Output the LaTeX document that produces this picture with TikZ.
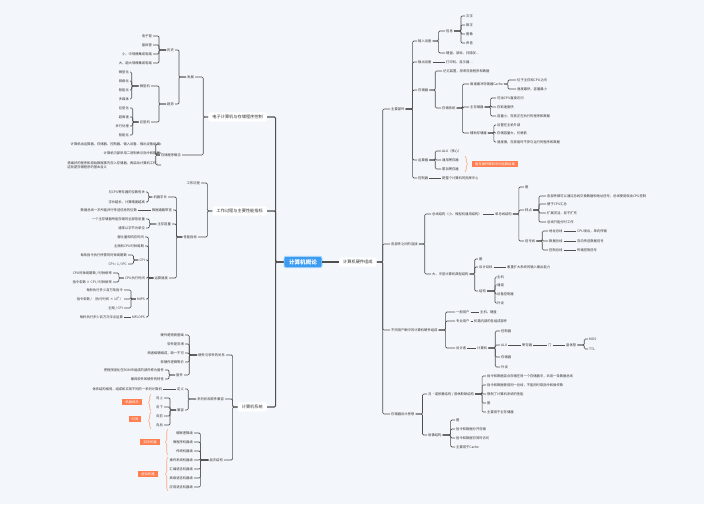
\documentclass[tikz,border=0pt]{standalone}
\usepackage{fontspec}
\setmainfont{Noto Sans CJK SC}
\usetikzlibrary{decorations.pathreplacing}
\definecolor{bgc}{HTML}{F3F6FA}
\definecolor{lnc}{HTML}{4F4F4F}
\definecolor{txc}{HTML}{333333}
\definecolor{rootc}{HTML}{3C9CF2}
\definecolor{rootb}{HTML}{A8D6FF}
\definecolor{tagc}{HTML}{FF7F50}
\definecolor{brc}{HTML}{FFA77F}
\newcommand\fs{\fontsize{3.3}{4.4}\selectfont}
\newcommand\rlink[3]{\foreach \ch in {#3}{\draw[ln] (#1.east) -- ++(#2,0) |- (\ch.west);}}
\newcommand\llink[3]{\foreach \ch in {#3}{\draw[ln] (#1.west) -- ++(-#2,0) |- (\ch.east);}}
\tikzset{
  txt/.style={font=\fs, text=txc, inner sep=1pt},
  rt/.style={txt, anchor=west},
  lt/.style={txt, anchor=east},
  topic/.style={fill=white, rounded corners=1.5pt, font=\fontsize{4.2}{5}\selectfont, text=txc, inner xsep=4pt, inner ysep=2.6pt},
  rootn/.style={fill=rootc, draw=rootb, line width=0.9pt, rounded corners=2pt, text=white, font=\bfseries\fontsize{5.6}{6.5}\selectfont, inner xsep=5pt, inner ysep=3pt},
  ln/.style={draw=lnc, line width=0.65pt, rounded corners=1.2pt},
  ln0/.style={ln, line width=1.1pt},
  tag/.style={fill=tagc, text=white, font=\fs, inner xsep=3pt, inner ysep=1.8pt},
  sumbr/.style={draw=brc, line width=0.6pt, decorate, decoration={brace, amplitude=2.5pt}},
}
\begin{document}
\begin{tikzpicture}[x=1pt,y=-1pt]
\fill[bgc] (0,0) rectangle (704,504);
\useasboundingbox (0,0) rectangle (704,504);

\node[rootn] (root) at (303,262) {计算机概论};
\node[topic,anchor=west] (hw) at (339,262) {计算机硬件组成};
\node[topic,anchor=east] (ep) at (267,117) {电子计算机与存储程序控制};
\node[topic,anchor=east] (wp) at (267,211) {工作过程与主要性能指标};
\node[topic,anchor=east] (cs) at (267,407) {计算机系统};
\draw[ln0] (root.east) -- (hw.west);
\foreach \t in {ep,wp,cs}{\draw[ln0] (root.west) -- ++(-8,0) |- (\t.east);}

% 电子计算机与存储程序控制
\node[lt] (fz) at (195,77) {发展};
\node[lt] (lsh) at (175,50) {历史};
\node[lt] (qs) at (175,104) {趋势};
\node[lt] (h1) at (153,36) {电子管};
\node[lt] (h2) at (153,45) {晶体管};
\node[lt] (h3) at (153,54) {小、中规模集成电路};
\node[lt] (h4) at (153,63) {大、超大规模集成电路};
\node[lt] (wx) at (151,86) {微型机};
\node[lt] (jx) at (151,122) {巨型机};
\node[lt] (w1) at (130,72) {微型化};
\node[lt] (w2) at (130,81) {网络化};
\node[lt] (w3) at (130,90) {智能化};
\node[lt] (w4) at (130,99) {多媒体};
\node[lt] (j1) at (130,108) {巨型化};
\node[lt] (j2) at (130,117) {超高速};
\node[lt] (j3) at (130,126) {并行处理};
\node[lt] (j4) at (130,135) {智能化};
\node[lt] (cx) at (182,155) {存储程序概念};
\node[lt] (c1) at (161,144) {计算机由运算器、存储器、控制器、输入设备、输出设备组成};
\node[lt] (c2) at (161,153) {计算机内部采用二进制表示指令和数据};
\node[lt,align=left] (c3) at (161,165) {将编好的程序和原始数据事先存入存储器，再启动计算机工作，\\这就是存储程序的基本含义};
\llink{ep}{5}{fz,cx}
\llink{fz}{7}{lsh,qs}
\llink{lsh}{7}{h1,h2,h3,h4}
\llink{qs}{7}{wx,jx}
\llink{wx}{7}{w1,w2,w3,w4}
\llink{jx}{6}{j1,j2,j3,j4}
\llink{cx}{4}{c1,c2,c3}

% 工作过程与主要性能指标
\node[lt] (gc) at (201,183) {工作过程};
\node[lt] (xn) at (198,237) {性能指标};
\node[lt] (zc) at (168,197) {机器字长};
\node[lt] (tk) at (173,210) {数据通路带宽};
\node[lt] (zr) at (172,224) {主存容量};
\node[lt] (ys) at (169,278) {运算速度};
\node[lt] (zc1) at (146,192) {与CPU寄存器的位数有关};
\node[lt] (zc2) at (146,202) {字长越长，计算精度越高};
\node[lt] (tk1) at (138,210) {数据总线一次所能并行传送信息的位数};
\node[lt] (zr1) at (146,219) {一个主存储器所能存储的全部信息量};
\node[lt] (zr2) at (146,228) {通常以字节为单位};
\node[lt] (y1) at (145,237) {吞吐量和响应时间};
\node[lt] (y2) at (145,246) {主频和CPU时钟周期};
\node[lt] (cpi) at (146,260) {CPI};
\node[lt] (cpt) at (146,278) {CPU执行时间};
\node[lt] (mips) at (146,299) {MIPS};
\node[lt] (mfl) at (146,317) {MFLOPS};
\node[lt] (cpi1) at (128,255) {每条指令执行所需的时钟周期数};
\node[lt] (cpi2) at (128,264) {CPI = 1 / IPC};
\node[lt] (cpt1) at (113,273) {CPU时钟周期数 / 时钟频率};
\node[lt] (cpt2) at (113,282) {指令条数 × CPI / 时钟频率};
\node[lt] (mi1) at (124,290) {每秒执行多少百万条指令};
\node[lt] (mi2) at (124,299) {指令条数 / （执行时间 × 10\textsuperscript{6}）};
\node[lt] (mi3) at (124,308) {主频 / CPI};
\node[lt] (mf1) at (124,317) {每秒执行多少百万次浮点运算};
\llink{wp}{5}{gc,xn}
\llink{xn}{6}{zc,tk,zr,ys}
\llink{zc}{4}{zc1,zc2}
\draw[ln] (tk.west) -- (tk1.east);
\llink{zr}{7}{zr1,zr2}
\llink{ys}{5}{y1,y2,cpi,cpt,mips,mfl}
\llink{cpi}{5}{cpi1,cpi2}
\llink{cpt}{5}{cpt1,cpt2}
\llink{mips}{5}{mi1,mi2,mi3}
\draw[ln] (mfl.west) -- (mf1.east);

% 计算机系统
\node[lt] (rs) at (226,355) {硬件与软件的关系};
\node[lt] (xl) at (225,399) {系列机和软件兼容};
\node[lt] (cj) at (224,460) {层次结构};
\node[lt] (r1) at (185,335) {硬件是物质基础};
\node[lt] (r2) at (185,344) {软件是灵魂};
\node[lt] (r3) at (185,353) {两者相辅相成，缺一不可};
\node[lt] (r4) at (185,362) {软硬件逻辑等价};
\node[lt] (gj) at (184,375) {固件};
\node[lt] (gj1) at (165,370) {把程序固化在ROM中组成的部件称为固件};
\node[lt] (gj2) at (165,379) {兼具软件和硬件的特性};
\node[lt] (dy) at (185,389) {定义};
\node[lt] (jr) at (185,410) {兼容};
\node[lt] (dy1) at (163,389) {体系结构相同，组成和实现不同的一系列计算机};
\node[lt] (ju) at (164,398) {向上};
\node[lt] (jd) at (164,407) {向下};
\node[lt] (jf) at (164,416) {向前};
\node[lt] (jb) at (164,425) {向后};
\node[lt] (k1) at (194,433) {硬联逻辑级};
\node[lt] (k2) at (194,442) {微程序机器级};
\node[lt] (k3) at (194,451) {传统机器级};
\node[lt] (k4) at (194,460) {操作系统机器级};
\node[lt] (k5) at (194,469) {汇编语言机器级};
\node[lt] (k6) at (194,478) {高级语言机器级};
\node[lt] (k7) at (194,487) {应用语言机器级};
\llink{cs}{5}{rs,xl,cj}
\llink{rs}{8}{r1,r2,r3,r4,gj}
\llink{gj}{6}{gj1,gj2}
\llink{xl}{8}{dy,jr}
\draw[ln] (dy.west) -- (dy1.east);
\llink{jr}{6}{ju,jd,jf,jb}
\llink{cj}{8}{k1,k2,k3,k4,k5,k6,k7}
\node[tag] (tg1) at (132,402) {机器档次};
\node[tag] (tg2) at (135,419) {时间};
\node[tag] (tg3) at (150,442) {实际机器};
\node[tag] (tg4) at (148,474) {虚拟机器};
\draw[sumbr] (151,411) -- (151,394);
\draw[sumbr] (151,429) -- (151,412);
\draw[sumbr] (168,455) -- (168,429);
\draw[sumbr] (168,491) -- (168,457);

% 计算机硬件组成
\node[rt] (mc) at (390,109) {主要部件};
\node[rt] (lj) at (390,244) {各部件之间的连接};
\node[rt] (bt) at (390,330) {不同用户眼中的计算机硬件组成};
\node[rt] (sj) at (390,414) {存储器设计思想};
\rlink{hw}{6}{mc,lj,bt,sj}

\node[rt] (inp) at (417,41) {输入设备};
\node[rt] (out) at (417,62) {输出设备};
\node[rt] (mem) at (417,90) {存储器};
\node[rt] (alu) at (417,160) {运算器};
\node[rt] (ctl) at (417,178) {控制器};
\rlink{mc}{7}{inp,out,mem,alu,ctl}
\node[rt] (xx) at (445,31) {信息};
\node[rt] (kb) at (445,53) {键盘、鼠标、扫描仪…};
\node[rt] (i1) at (465,16) {文字};
\node[rt] (i2) at (465,25) {数字};
\node[rt] (i3) at (465,34) {图像};
\node[rt] (i4) at (465,43) {声音};
\node[rt] (o1) at (445,62) {打印机、显示器…};
\rlink{inp}{6}{xx,kb}
\rlink{xx}{7}{i1,i2,i3,i4}
\draw[ln] (out.east) -- (o1.west);
\node[rt] (m1) at (442,71) {记忆装置，用来存放程序和数据};
\node[rt] (ms) at (441,108) {存储系统};
\node[rt] (cache) at (469,84) {高速缓冲存储器Cache};
\node[rt] (mm) at (469,107) {主存储器};
\node[rt] (am) at (469,133) {辅助存储器};
\node[rt] (ca1) at (516,80) {位于主存和CPU之间};
\node[rt] (ca2) at (516,89) {速度最快，容量最小};
\node[rt] (mm1) at (496,98) {可由CPU直接访问};
\node[rt] (mm2) at (496,107) {存取速度快};
\node[rt] (mm3) at (496,116) {容量小，存放正在执行的程序和数据};
\node[rt] (am1) at (496,125) {设置在主机外部};
\node[rt] (am2) at (496,133) {存储容量大，价格低};
\node[rt] (am3) at (496,142) {速度慢，存放暂时不参与运行的程序和数据};
\rlink{mem}{6}{m1,ms}
\rlink{ms}{6}{cache,mm,am}
\rlink{cache}{4}{ca1,ca2}
\rlink{mm}{6}{mm1,mm2,mm3}
\rlink{am}{6}{am1,am2,am3}
\node[rt] (al1) at (441,151) {ALU（核心）};
\node[rt] (al2) at (441,160) {通用寄存器};
\node[rt] (al3) at (441,169) {累加寄存器};
\node[rt] (ct1) at (441,178) {是整个计算机的指挥中心};
\rlink{alu}{6}{al1,al2,al3}
\draw[ln] (ctl.east) -- (ct1.west);
\draw[sumbr] (465,156) -- (465,172);
\node[tag] (tg5) at (495,164) {暂存操作数和中间运算结果};

\node[rt] (zx) at (431,214) {总线结构（小、微型机通用结构）};
\node[rt] (dz) at (431,274) {大、中型计算机典型结构};
\rlink{lj}{6}{zx,dz}
\node[rt] (dzx) at (494,214) {单总线结构};
\draw[ln] (zx.east) -- (dzx.west);
\node[rt] (t0) at (524,187) {图};
\node[rt] (td) at (524,210) {特点};
\node[rt] (xh) at (524,241) {信号线};
\rlink{dzx}{6}{t0,td,xh}
\node[rt] (td1) at (546,196) {各部件都可以通过总线交换数据和地址信号，总线使用权由CPU控制};
\node[rt] (td2) at (546,204) {便于CPU汇总};
\node[rt] (td3) at (546,213) {扩展灵活，易于扩充};
\node[rt] (td4) at (546,222) {总线只能分时工作};
\rlink{td}{6}{td1,td2,td3,td4}
\node[rt] (ab) at (548,231) {地址总线};
\node[rt] (db) at (548,241) {数据总线};
\node[rt] (cb) at (548,250) {控制总线};
\node[rt] (ab1) at (576,231) {CPU发出，单向传输};
\node[rt] (db1) at (576,241) {双向传送数据信号};
\node[rt] (cb1) at (576,250) {传输控制信号};
\rlink{xh}{6}{ab,db,cb}
\draw[ln] (ab.east) -- (ab1.west);
\draw[ln] (db.east) -- (db1.west);
\draw[ln] (cb.east) -- (cb1.west);
\node[rt] (dt0) at (478,259) {图};
\node[rt] (mb) at (478,267) {设计目标};
\node[rt] (jg) at (478,291) {结构};
\rlink{dz}{5}{dt0,mb,jg}
\node[rt] (mb1) at (506,267) {着重扩大系统的输入输出能力};
\draw[ln] (mb.east) -- (mb1.west);
\node[rt] (jg1) at (496,277) {主机};
\node[rt] (jg2) at (496,285) {通道};
\node[rt] (jg3) at (496,294) {设备控制器};
\node[rt] (jg4) at (496,303) {外设};
\rlink{jg}{8}{jg1,jg2,jg3,jg4}

\node[rt] (u1) at (455,312) {一般用户};
\node[rt] (u2) at (455,321) {专业用户};
\node[rt] (u3) at (455,348) {设计者};
\rlink{bt}{7}{u1,u2,u3}
\node[rt] (u1c) at (479,312) {主机、键盘};
\node[rt] (u2c) at (473,321) {机箱内部的各组成部件};
\node[rt] (pc) at (476,348) {计算机};
\draw[ln] (u1.east) -- (u1c.west);
\draw[ln] (u2.east) -- (u2c.west);
\draw[ln] (u3.east) -- (pc.west);
\node[rt] (p1) at (500,331) {控制器};
\node[rt] (p2) at (500,345) {ALU};
\node[rt] (p3) at (500,357) {存储器};
\node[rt] (p4) at (500,367) {外设};
\rlink{pc}{7}{p1,p2,p3,p4}
\node[rt] (reg) at (521,345) {寄存器};
\node[rt] (gate) at (547,345) {门};
\node[rt] (tr) at (565,345) {晶体管};
\node[rt] (mos) at (588,339) {MOS};
\node[rt] (ttl) at (588,349) {TTL};
\draw[ln] (p2.east) -- (reg.west);
\draw[ln] (reg.east) -- (gate.west);
\draw[ln] (gate.east) -- (tr.west);
\rlink{tr}{7}{mos,ttl}

\node[rt] (fn) at (427,394) {冯·诺依曼结构 / 普林斯顿结构};
\node[rt] (hf) at (427,435) {哈佛结构};
\rlink{sj}{7}{fn,hf}
\node[rt] (f1) at (486,376) {指令和数据混合存储在同一个存储器中，共用一条数据总线};
\node[rt] (f2) at (486,385) {指令和数据使用同一总线，不能同时取指令和操作数};
\node[rt] (f3) at (486,394) {限制了计算机系统的性能};
\node[rt] (f4) at (486,403) {图};
\node[rt] (f5) at (486,412) {主要用于主存储器};
\rlink{fn}{7}{f1,f2,f3,f4,f5}
\node[rt] (hf1) at (455,420) {图};
\node[rt] (hf2) at (455,429) {指令和数据分开存储};
\node[rt] (hf3) at (455,438) {指令和数据可同时访问};
\node[rt] (hf4) at (455,447) {主要用于Cache};
\rlink{hf}{8}{hf1,hf2,hf3,hf4}
\end{tikzpicture}
\end{document}
